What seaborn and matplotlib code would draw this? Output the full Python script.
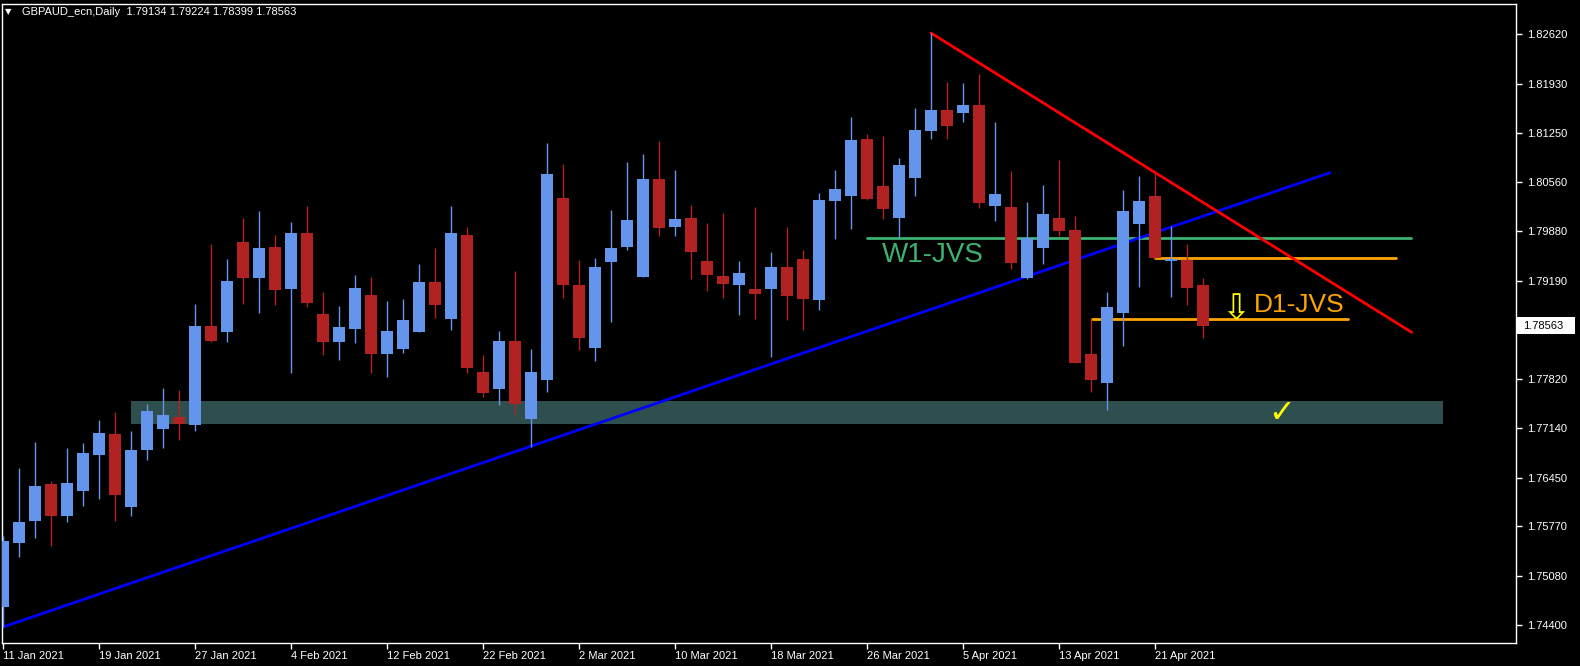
import numpy as np
import pandas as pd
import matplotlib
matplotlib.use('Agg')
import matplotlib.pyplot as plt
import matplotlib.transforms as mtransforms
from matplotlib.patches import Rectangle
import seaborn as sns

# daily candles GBPAUD, 11 Jan 2021 .. 26 Apr 2021
opens = [1.74652, 1.75543, 1.75849, 1.76360, 1.75919, 1.76267, 1.76768, 1.77056, 1.76044, 1.76838,
         1.77130, 1.77293, 1.77186, 1.78560, 1.78480, 1.79729, 1.79232, 1.79659, 1.79079, 1.79854,
         1.78727, 1.78341, 1.78522, 1.78991, 1.78174, 1.78244, 1.78480, 1.79172, 1.78661, 1.79826,
         1.77919, 1.77687, 1.78351, 1.77269, 1.77812, 1.80341, 1.79130, 1.78258, 1.79455, 1.79663,
         1.79246, 1.80606, 1.79942, 1.80063, 1.79464, 1.79256, 1.79134, 1.79075, 1.79079, 1.79381,
         1.79492, 1.78926, 1.80304, 1.80373, 1.81163, 1.80508, 1.80067, 1.80624, 1.81278, 1.81566,
         1.81529, 1.81636, 1.80234, 1.80216, 1.79232, 1.79650, 1.80063, 1.79896, 1.78170, 1.77770,
         1.78745, 1.79984, 1.80369, 1.79469, 1.79478, 1.79134]
highs = [1.75636, 1.76583, 1.76945, 1.76402, 1.76861, 1.76931, 1.77251, 1.77363, 1.77098, 1.77474,
         1.77697, 1.77669, 1.78866, 1.79701, 1.79492, 1.80067, 1.80160, 1.79826, 1.80007, 1.80230,
         1.79033, 1.78838, 1.79270, 1.79242, 1.78908, 1.78935, 1.79423, 1.79645, 1.80230, 1.79938,
         1.78156, 1.78490, 1.79325, 1.78239, 1.81107, 1.80815, 1.79478, 1.79506, 1.80174, 1.80842,
         1.80954, 1.81135, 1.80731, 1.80244, 1.79993, 1.80133, 1.79464, 1.80216, 1.79590, 1.79938,
         1.79618, 1.80411, 1.80731, 1.81469, 1.81232, 1.81204, 1.80898, 1.81594, 1.82638, 1.81956,
         1.81942, 1.82067, 1.81399, 1.80717, 1.80286, 1.80522, 1.80870, 1.80091, 1.78657, 1.79033,
         1.80453, 1.80648, 1.80689, 1.79952, 1.79701, 1.79224]
lows = [1.74374, 1.75348, 1.75613, 1.75501, 1.75835, 1.76058, 1.76156, 1.75849, 1.75919, 1.76699,
        1.76866, 1.76977, 1.77102, 1.78341, 1.78341, 1.78870, 1.78745, 1.78856, 1.77910, 1.78828,
        1.78160, 1.78091, 1.78327, 1.77910, 1.77854, 1.78188, 1.78480, 1.78675, 1.78508, 1.77910,
        1.77575, 1.77464, 1.77339, 1.76879, 1.77645, 1.78953, 1.78230, 1.78077, 1.78619, 1.79622,
        1.79246, 1.79817, 1.79817, 1.79218, 1.79051, 1.78953, 1.78717, 1.78661, 1.78132, 1.78647,
        1.78508, 1.78787, 1.79775, 1.79914, 1.80318, 1.80053, 1.79789, 1.80373, 1.81167, 1.81167,
        1.81403, 1.80206, 1.80025, 1.79357, 1.79218, 1.79427, 1.79817, 1.78049, 1.77645, 1.77395,
        1.78285, 1.79107, 1.79510, 1.78967, 1.78856, 1.78399]
closes = [1.75571, 1.75831, 1.76332, 1.75919, 1.76374, 1.76792, 1.77070, 1.76211, 1.76834, 1.77376,
          1.77321, 1.77200, 1.78560, 1.78355, 1.79186, 1.79232, 1.79645, 1.79065, 1.79854, 1.78884,
          1.78341, 1.78546, 1.79089, 1.78174, 1.78490, 1.78643, 1.79172, 1.78856, 1.79854, 1.77979,
          1.77631, 1.78351, 1.77478, 1.77919, 1.80675, 1.79134, 1.78397, 1.79381, 1.79645, 1.80035,
          1.80606, 1.79928, 1.80049, 1.79594, 1.79274, 1.79148, 1.79297, 1.79009, 1.79381, 1.78981,
          1.78940, 1.80314, 1.80467, 1.81149, 1.80332, 1.80192, 1.80801, 1.81288, 1.81566, 1.81348,
          1.81636, 1.80276, 1.80397, 1.79441, 1.79785, 1.80119, 1.79886, 1.78049, 1.77812, 1.78824,
          1.80160, 1.80300, 1.79510, 1.79496, 1.79093, 1.78563]

date_labels = ['11 Jan 2021', '19 Jan 2021', '27 Jan 2021', '4 Feb 2021', '12 Feb 2021',
               '22 Feb 2021', '2 Mar 2021', '10 Mar 2021', '18 Mar 2021', '26 Mar 2021',
               '5 Apr 2021', '13 Apr 2021', '21 Apr 2021']
price_ticks = [1.82620, 1.81930, 1.81250, 1.80560, 1.79880, 1.79190, 1.78510,
               1.77820, 1.77140, 1.76450, 1.75770, 1.75080, 1.74400]

# drawn objects (bar index, price)
up_trend_x = [0, 82.94]
up_trend_y = [1.74370, 1.80694]
down_trend_x = [58, 88.04]
down_trend_y = [1.82638, 1.78472]
w1_x = [54, 88.0]
w1_level = 1.79787
d1_top_x = [72, 87.06]
d1_top_level = 1.79510
d1_x = [68.06, 84.06]
d1_level = 1.78657
zone_x = [8, 90]
zone_y = [1.77200, 1.77516]
last_price = 1.78563

sns.set_theme(style='dark', rc={'axes.facecolor': 'black', 'figure.facecolor': 'black',
                                'axes.edgecolor': 'white', 'axes.grid': False})
plt.rcParams['font.family'] = ['Liberation Sans', 'DejaVu Sans']

df = pd.DataFrame({'open': opens, 'high': highs, 'low': lows, 'close': closes})
df['idx'] = np.arange(len(df))
bull = df['close'] >= df['open']
colors = np.where(bull, '#6495ED', '#B22222')
body_low = df[['open', 'close']].min(axis=1)
body_h = (df['close'] - df['open']).abs().clip(lower=0.00012)

fig = plt.figure(figsize=(15.8, 6.66), dpi=100)
ax = fig.add_axes([2 / 1580, 23 / 666, 1514 / 1580, 639 / 666])
ax.set_facecolor('black')

# support zone
ax.add_patch(Rectangle((zone_x[0], zone_y[0]), zone_x[1] - zone_x[0], zone_y[1] - zone_y[0],
                       facecolor='#2F4F4F', edgecolor='none', zorder=1))

# horizontal levels and trendlines
sns.lineplot(x=w1_x, y=[w1_level, w1_level], ax=ax, color='#3CB371', linewidth=2, zorder=2)
sns.lineplot(x=d1_top_x, y=[d1_top_level, d1_top_level], ax=ax, color='#FFA500', linewidth=2, zorder=2)
sns.lineplot(x=d1_x, y=[d1_level, d1_level], ax=ax, color='#FFA500', linewidth=2, zorder=2)
sns.lineplot(x=up_trend_x, y=up_trend_y, ax=ax, color='#0000FF', linewidth=2, zorder=2)
sns.lineplot(x=down_trend_x, y=down_trend_y, ax=ax, color='#FF0000', linewidth=2, zorder=2)

# candles
ax.vlines(df['idx'], df['low'], df['high'], colors=colors, linewidth=1, zorder=3)
ax.bar(df['idx'], body_h, bottom=body_low, width=0.69, color=colors, linewidth=0, zorder=4)

ax.text(54.94, 1.79548, 'W1-JVS', color='#3CB371', fontsize=20, va='center', ha='left', zorder=6)
ax.text(78.19, 1.78852, 'D1-JVS', color='#FFA500', fontsize=19, va='center', ha='left', zorder=6)
ax.text(77.03, 1.78790, '⇩', color='#FFFF00', fontsize=25, va='center', ha='center',
        family=['DejaVu Sans'], zorder=6)
ax.text(79.9, 1.77335, '✓', color='#FFFF00', fontsize=23, va='center', ha='center',
        family=['DejaVu Sans'], zorder=6)

ax.set_xlim(-0.0625, 94.5625)
ax.set_ylim(1.74147, 1.83042)

ax.set_xticks(np.arange(0, 73, 6))
ax.set_xticklabels(date_labels, ha='left')
ax.set_yticks(price_ticks)
ax.set_yticklabels([f'{p:.5f}' for p in price_ticks])
ax.yaxis.tick_right()
ax.tick_params(axis='y', direction='out', length=4, width=1, colors='white', labelsize=8, pad=4,
               right=True, left=False, labelright=True, labelleft=False)
ax.tick_params(axis='x', direction='out', length=4, width=1, colors='white', labelsize=8, pad=2,
               bottom=True)
ax.set_xlabel('')
ax.set_ylabel('')
for s in ax.spines.values():
    s.set_color('white')
    s.set_linewidth(1)

# current price box on the price scale
blend = mtransforms.blended_transform_factory(ax.transAxes, ax.transData)
ax.add_patch(Rectangle((1.0005, last_price - 0.00118), 0.0385, 0.00236, transform=blend,
                       facecolor='white', edgecolor='none', clip_on=False, zorder=10))
ax.text(1.0048, last_price, f'{last_price:.5f}', transform=blend, color='black', fontsize=8,
        va='center', ha='left', clip_on=False, zorder=11)

fig.text(5 / 1580, 1 - 12 / 666, '▼', color='white', fontsize=6, va='center', family=['DejaVu Sans'])
fig.text(22 / 1580, 1 - 12 / 666, 'GBPAUD_ecn,Daily  1.79134 1.79224 1.78399 1.78563',
         color='white', fontsize=8, va='center')

fig.savefig('out.png', dpi=100, facecolor='black')
